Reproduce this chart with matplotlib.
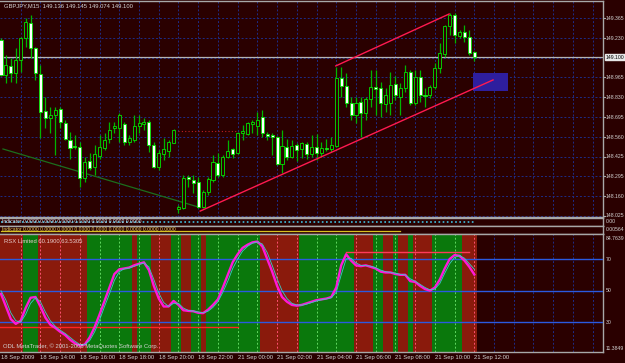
import matplotlib
matplotlib.use("Agg")
import matplotlib.pyplot as plt
from matplotlib.patches import Rectangle

# GBPJPY M15 candles
opens = [149.218, 148.981, 149.042, 148.994, 149.082, 149.231, 149.333, 149.164, 148.987, 148.736,
         148.689, 148.709, 148.750, 148.655, 148.540, 148.499, 148.492, 148.282, 148.397, 148.357,
         148.431, 148.486, 148.547, 148.621, 148.621, 148.648, 148.526, 148.540, 148.635, 148.648,
         148.662, 148.506, 148.357, 148.445, 148.465, 148.519, 148.072, 148.079, 148.289, 148.269,
         148.255, 148.086, 148.187, 148.269, 148.384, 148.303, 148.425, 148.479, 148.452, 148.587,
         148.580, 148.648, 148.635, 148.696, 148.580, 148.574, 148.560, 148.377, 148.492, 148.425,
         148.506, 148.479, 148.513, 148.445, 148.492, 148.452, 148.486, 148.479, 148.499, 148.960,
         148.906, 148.791, 148.709, 148.797, 148.723, 148.818, 148.899, 148.892, 148.784, 148.791,
         148.919, 148.831, 148.892, 149.001, 148.791, 148.967, 148.845, 148.845, 148.899, 149.028,
         149.123, 149.313, 149.387, 149.245, 149.272, 149.238, 149.136]
highs = [149.231, 149.116, 149.096, 149.164, 149.238, 149.367, 149.387, 149.170, 149.048, 148.831,
         148.764, 148.764, 148.764, 148.675, 148.594, 148.574, 148.526, 148.425, 148.452, 148.506,
         148.574, 148.587, 148.662, 148.662, 148.723, 148.662, 148.574, 148.709, 148.709, 148.689,
         148.675, 148.526, 148.472, 148.553, 148.540, 148.614, 148.099, 148.303, 148.303, 148.303,
         148.289, 148.201, 148.289, 148.438, 148.452, 148.438, 148.540, 148.486, 148.594, 148.642,
         148.662, 148.675, 148.730, 148.743, 148.594, 148.587, 148.567, 148.608, 148.547, 148.540,
         148.519, 148.526, 148.526, 148.574, 148.580, 148.526, 148.547, 148.560, 149.035, 149.035,
         148.994, 148.831, 148.831, 148.831, 148.831, 149.014, 149.014, 148.933, 148.892, 149.001,
         148.974, 148.926, 149.048, 149.014, 149.014, 149.014, 148.892, 148.913, 149.062, 149.197,
         149.319, 149.401, 149.401, 149.286, 149.319, 149.286, 149.145]
lows = [148.974, 148.926, 148.933, 148.926, 149.001, 149.170, 149.096, 148.947, 148.553, 148.621,
        148.587, 148.438, 148.621, 148.540, 148.411, 148.479, 148.221, 148.255, 148.336, 148.303,
        148.411, 148.472, 148.519, 148.587, 148.526, 148.506, 148.506, 148.526, 148.587, 148.608,
        148.458, 148.350, 148.336, 148.404, 148.425, 148.519, 148.045, 148.072, 148.221, 148.181,
        148.079, 148.079, 148.167, 148.255, 148.289, 148.289, 148.418, 148.418, 148.445, 148.540,
        148.574, 148.587, 148.574, 148.560, 148.540, 148.438, 148.370, 148.316, 148.404, 148.418,
        148.397, 148.418, 148.411, 148.425, 148.404, 148.425, 148.465, 148.458, 148.492, 148.831,
        148.764, 148.675, 148.655, 148.560, 148.675, 148.764, 148.709, 148.696, 148.730, 148.709,
        148.811, 148.709, 148.865, 148.777, 148.777, 148.797, 148.764, 148.825, 148.886, 148.994,
        149.103, 149.252, 149.197, 149.231, 149.204, 149.116, 149.074]
closes = [148.981, 149.048, 148.994, 149.082, 149.231, 149.340, 149.164, 148.994, 148.730, 148.689,
          148.709, 148.743, 148.662, 148.547, 148.486, 148.492, 148.282, 148.391, 148.350, 148.445,
          148.492, 148.540, 148.608, 148.635, 148.709, 148.526, 148.553, 148.635, 148.655, 148.662,
          148.506, 148.357, 148.452, 148.479, 148.526, 148.608, 148.086, 148.282, 148.275, 148.248,
          148.086, 148.187, 148.275, 148.391, 148.303, 148.425, 148.465, 148.445, 148.587, 148.601,
          148.655, 148.662, 148.675, 148.587, 148.567, 148.560, 148.377, 148.499, 148.425, 148.499,
          148.472, 148.519, 148.445, 148.492, 148.452, 148.486, 148.479, 148.506, 148.960, 148.906,
          148.791, 148.709, 148.791, 148.723, 148.818, 148.899, 148.886, 148.791, 148.845, 148.913,
          148.845, 148.892, 149.001, 148.791, 148.967, 148.845, 148.838, 148.899, 149.028, 149.130,
          149.313, 149.387, 149.252, 149.272, 149.238, 149.130, 149.100]

time_ticks = list(range(0, 97, 8))
time_labels = ["18 Sep 2009", "18 Sep 14:00", "18 Sep 16:00", "18 Sep 18:00", "18 Sep 20:00",
               "18 Sep 22:00", "21 Sep 00:00", "21 Sep 02:00", "21 Sep 04:00", "21 Sep 06:00",
               "21 Sep 08:00", "21 Sep 10:00", "21 Sep 12:00"]

price_grid = [149.365, 149.230, 149.095, 148.965, 148.830, 148.695, 148.560,
              148.425, 148.295, 148.160, 148.025]
price_labels = ["149.365", "149.230", "", "148.965", "148.830", "148.695", "148.560",
                "148.425", "148.295", "148.160", "148.025"]
current_price = 149.100
title = "GBPJPY,M15  149.136 149.145 149.074 149.100"

# objects drawn on the price chart (bar index, price)
channel_low_x, channel_low_y = [40.4, 99.8], [148.058, 148.947]
channel_high_x, channel_high_y = [67.9, 90.9], [149.042, 149.394]
trend_x, trend_y = [0.4, 40.0], [148.479, 148.086]
box_x, box_y = [95.8, 102.9], [148.872, 148.994]
red_dots_x, red_dots_y = [36, 48], [148.601, 148.601]

# RSX sub window
rsx_fast = [48, 40, 32, 29, 31, 39, 45.5, 46, 40, 33, 28.5, 26.5, 24, 22, 19, 16.7, 15.2, 16, 20.5, 27,
            35, 43.5, 52, 60.5, 63.5, 64, 64.6, 66, 67, 67.9, 63, 53, 45, 40, 40, 43.5, 41, 37.6, 37.2, 37,
            36, 35.8, 38, 41, 44.5, 52, 60, 68, 73, 77, 79, 80.5, 81, 78, 70, 62, 53, 46, 43, 41,
            40.5, 41, 42, 43, 44, 44.5, 45, 46, 52, 66, 73, 69, 66, 65.5, 66, 65, 64, 62, 61.5, 61.5,
            60.5, 60, 60, 56, 55.5, 53, 51, 50, 52, 57, 64, 70, 72.5, 72, 69, 65, 60.19]
rsx_slow = [50, 44, 36, 31, 30, 35, 42, 45.5, 43, 36.5, 31, 27.5, 25, 23, 20.5, 18, 16, 15.8, 18.5, 24,
            31.5, 40, 48, 56.5, 62, 63.8, 64.3, 65.3, 66.5, 67.5, 65, 57, 48.5, 42.5, 40, 42, 42, 39, 37.5, 37.1,
            36.5, 36, 37, 39.5, 43, 49, 56, 64, 70, 75, 78, 80, 80.8, 79.5, 74, 66, 57.5, 50, 45, 42,
            41, 40.8, 41.5, 42.5, 43.5, 44.2, 44.8, 45.5, 49, 60, 70, 70.5, 67.5, 66, 65.8, 65.5, 64.5, 63, 62, 61.5,
            61, 60.3, 60, 57.5, 56, 54, 52, 50.5, 51, 54.5, 61, 67, 71, 72.2, 70.5, 67, 63.53]
rsx_bands = ("RRRRR" "GGG" "RRRRRRRRRR" "GGGGGGGGG" "R" "GGG" "RRRR" "GG" "RR" "GG" "R"
             "GGGGGGGGGGG" "RRRRRRRR" "GGGGGGGGGGG" "RRRR" "GG" "RR" "G" "RR" "G" "RRRR" "GGGGGG" "RRR")
rsx_levels = [70, 50, 30]
rsx_label = "RSX Limited 60.1900 63.5305"
rsx_low_x, rsx_low_y = [-0.2, 48], [27.0, 27.0]
rsx_high_x, rsx_high_y = [70, 95], [74.5, 74.5]

BG = "#2a0000"
GRID = "#1e2c88"
FRAME = "#a8a8a8"
TXT = "#d4d4d4"
RED_BAND = "#8a1a0c"
GREEN_BAND = "#0a780c"
FS = 4.2
FS_R = 3.7
FONT = "Liberation Sans"

W, H = 625, 363
RIGHT = 603
XLIM = (-0.2, 122.1)
grid_x = list(range(4, 122, 4))
DOT = (0, (2, 2))

fig = plt.figure(figsize=(W / 100, H / 100), dpi=100, facecolor=BG)


def panel(top, bottom):
    a = fig.add_axes([0, 1 - bottom / H, RIGHT / W, (bottom - top) / H])
    a.set_facecolor(BG)
    a.set_xlim(*XLIM)
    a.set_xticks([])
    a.set_yticks([])
    for s in a.spines.values():
        s.set_color(FRAME)
        s.set_linewidth(1)
    a.spines["left"].set_visible(False)
    return a


def right_label(a, y, s, **kw):
    return a.text(1.004, y, s, transform=a.get_yaxis_transform(), ha="left", va="center",
                  fontsize=FS_R, family=FONT, color=TXT, clip_on=False, **kw)


# ---- price chart ----
ax = panel(1, 217)
ax.set_ylim(148.018, 149.482)
for lvl in price_grid:
    ax.axhline(lvl, color=GRID, lw=0.7, ls=DOT)
for gx in grid_x:
    ax.axvline(gx, color=GRID, lw=0.7, ls=DOT)
ax.axhline(current_price, color="#b4b4b4", lw=0.9)

ax.plot(trend_x, trend_y, color="#1c6e1c", lw=0.9)
ax.plot(red_dots_x, red_dots_y, color="#c02020", lw=0.8, ls=(0, (1, 2)))
ax.add_patch(Rectangle((box_x[0], box_y[0]), box_x[1] - box_x[0], box_y[1] - box_y[0],
                       facecolor="#2e1e9e", edgecolor="none", zorder=2))

for i in range(len(opens)):
    o, h, l, c = opens[i], highs[i], lows[i], closes[i]
    ax.plot([i, i], [l, h], color="#00b400", lw=0.9, zorder=3, solid_capstyle="butt")
    lo, hi = min(o, c), max(o, c)
    face = "white" if c < o else BG
    ax.add_patch(Rectangle((i - 0.31, lo), 0.62, max(hi - lo, 0.002),
                           facecolor=face, edgecolor="#00e600", lw=0.6, zorder=4))

ax.plot(channel_low_x, channel_low_y, color="#ff1a50", lw=1.0, zorder=5)
ax.plot(channel_high_x, channel_high_y, color="#ff1a50", lw=1.0, zorder=5)

ax.text(4 / RIGHT, 1 - 5 / 216, title, transform=ax.transAxes, ha="left", va="center",
        fontsize=FS, family=FONT, color=TXT)
for lvl, lab in zip(price_grid, price_labels):
    if lab:
        ax.plot([1, 1.004], [lvl, lvl], transform=ax.get_yaxis_transform(), color=FRAME,
                lw=0.8, clip_on=False)
        right_label(ax, lvl, lab)
cur = right_label(ax, current_price, "149.100",
                  bbox=dict(facecolor="#e8e8e8", edgecolor="#e8e8e8", pad=0.4))
cur.set_color("black")

# ---- two thin indicator windows ----
s1 = panel(217.5, 225.5)
s1.set_ylim(0, 1)
s1.plot([0, 96], [0.45, 0.45], color="#40c0e0", lw=1.2, ls=(0, (1, 1.5)))
s1.text(2 / RIGHT, 0.45, "Indicator 0.0000 0.0000 0.0000 0.0000 0.0000 0.0000 0.0000",
        transform=s1.transAxes, ha="left", va="center", fontsize=3.6, family=FONT, color="#e0e0f0")
right_label(s1, 0.5, "0.00")

s2 = panel(226, 233.5)
s2.set_ylim(0, 1)
s2.plot([0, 81], [0.4, 0.4], color="#d8c020", lw=0.9)
s2.text(2 / RIGHT, 0.5, "Indicator 0.0000 0.0000 0.0000 0.0000 0.0000 0.0000 0.0000 0.0000 0.0000",
        transform=s2.transAxes, ha="left", va="center", fontsize=3.6, family=FONT, color="#e8d060")
right_label(s2, 0.5, "0.00564")

# ---- RSX window ----
r = panel(234, 352)
ylo, yhi = 11.23, 85.8
r.set_ylim(ylo, yhi)
band_col = [RED_BAND if b == "R" else GREEN_BAND for b in rsx_bands]
r.bar(range(len(rsx_bands)), yhi - ylo, bottom=ylo, width=1.0, color=band_col, lw=0, zorder=1)
for gx in grid_x:
    if gx < len(rsx_bands):
        col = "#ff5070" if rsx_bands[gx] == "R" else "#60d860"
    else:
        col = GRID
    r.axvline(gx, color=col, lw=0.7, ls=DOT, zorder=2)
for lv in rsx_levels:
    r.axhline(lv, color="#2a5ae0", lw=1.0, zorder=3)
r.plot(rsx_low_x, rsx_low_y, color="#ff2424", lw=1.0, zorder=3)
r.plot(rsx_high_x, rsx_high_y, color="#ff3a5a", lw=1.0, zorder=3)
r.plot(range(len(rsx_fast)), rsx_fast, color="#ff18d8", lw=1.7, zorder=4)
r.plot(range(len(rsx_slow)), rsx_slow, color="#3cc8c8", lw=0.6, zorder=5)

r.text(4 / RIGHT, 0.94, rsx_label, transform=r.transAxes, ha="left", va="center",
       fontsize=FS, family=FONT, color="#e8cccc", zorder=6)
r.text(3 / RIGHT, 0.051, "ODL MetaTrader, \u00a9 2001-2008 MetaQuotes Software Corp.",
       transform=r.transAxes, ha="left", va="center", fontsize=FS, family=FONT, color=TXT, zorder=6)
right_label(r, 84.7639 - 1.5, "84.7639")
right_label(r, ylo + 2.5, "11.3849")
for lv in rsx_levels:
    right_label(r, lv, str(lv))

for t, lab in zip(time_ticks, time_labels):
    r.text(t, -0.047, lab, transform=r.get_xaxis_transform(), ha="left", va="center",
           fontsize=FS, family=FONT, color=TXT, clip_on=False)

fig.savefig("out.png", dpi=100, facecolor=BG)
